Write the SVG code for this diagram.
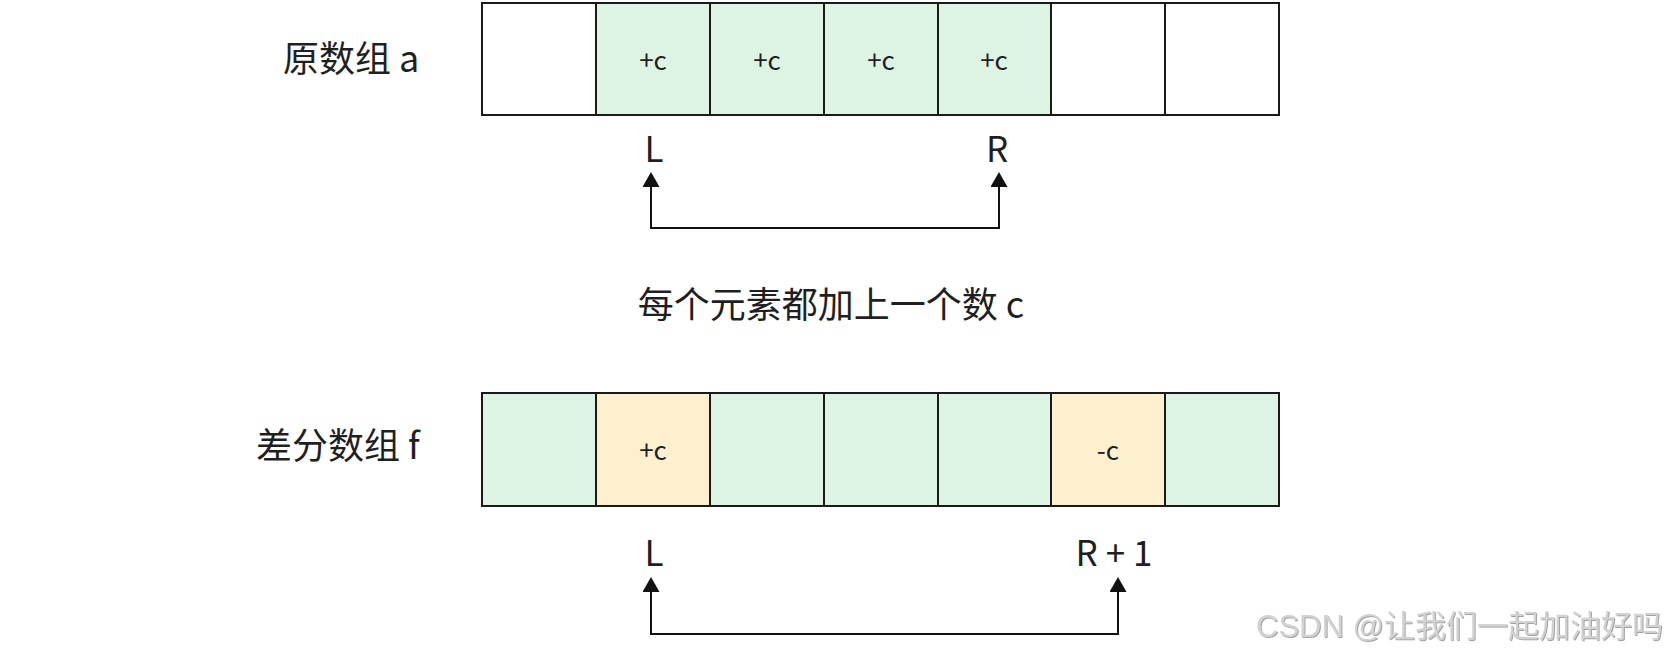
<svg xmlns="http://www.w3.org/2000/svg" width="1676" height="658" viewBox="0 0 1676 658">
<defs>
<style>
.cell{stroke:#1a1a1a;stroke-width:2}
.w{fill:#ffffff}
.g{fill:#ddf3e4}
.y{fill:#fdf0cf}
.t{font-family:"Noto Sans CJK SC","Noto Sans",sans-serif;fill:#1f1f1f}
.lbl{font-size:36px}
.cv{font-size:26px;text-anchor:middle}
.idx{font-size:35px;text-anchor:middle}
.conn{fill:none;stroke:#111;stroke-width:2}
.wm{font-family:"Liberation Sans","Noto Sans CJK SC",sans-serif;font-size:31px;fill:#d2d2d2;filter:url(#sh)}
</style>
<marker id="ah" viewBox="0 0 15 17" refX="0" refY="8.5" markerWidth="15" markerHeight="17" markerUnits="userSpaceOnUse" orient="auto-start-reverse">
<path d="M0,0 L15,8.5 L0,17 Z" fill="#111"/>
</marker>
<filter id="sh" x="-5%" y="-20%" width="110%" height="140%">
<feDropShadow dx="1" dy="1" stdDeviation="0.6" flood-color="#8a8a8a" flood-opacity="0.8"/>
</filter>
</defs>

<g id="label-a"><text class="t lbl" x="283" y="72">原数组 a</text></g>
<g id="array-a">
<rect class="cell w" x="482" y="3" width="114" height="112"/>
<rect class="cell g" x="596" y="3" width="114" height="112"/>
<rect class="cell g" x="710" y="3" width="114" height="112"/>
<rect class="cell g" x="824" y="3" width="114" height="112"/>
<rect class="cell g" x="938" y="3" width="113" height="112"/>
<rect class="cell w" x="1051" y="3" width="114" height="112"/>
<rect class="cell w" x="1165" y="3" width="114" height="112"/>
<text class="t cv" x="653" y="70">+c</text>
<text class="t cv" x="767" y="70">+c</text>
<text class="t cv" x="881" y="70">+c</text>
<text class="t cv" x="994" y="70">+c</text>
</g>
<g id="idx-a">
<text class="t idx" x="654" y="162">L</text>
<text class="t idx" x="997" y="162">R</text>
</g>

<g id="mid-text"><text class="t lbl" x="831" y="318" text-anchor="middle">每个元素都加上一个数 c</text></g>

<g id="label-f"><text class="t lbl" x="256" y="459">差分数组 f</text></g>
<g id="array-f">
<rect class="cell g" x="482" y="393" width="114" height="113"/>
<rect class="cell y" x="596" y="393" width="114" height="113"/>
<rect class="cell g" x="710" y="393" width="114" height="113"/>
<rect class="cell g" x="824" y="393" width="114" height="113"/>
<rect class="cell g" x="938" y="393" width="113" height="113"/>
<rect class="cell y" x="1051" y="393" width="114" height="113"/>
<rect class="cell g" x="1165" y="393" width="114" height="113"/>
<text class="t cv" x="653" y="460">+c</text>
<text class="t cv" x="1108" y="460">-c</text>
</g>
<g id="idx-f">
<text class="t idx" x="654" y="566">L</text>
<text class="t idx" x="1114" y="566">R + 1</text>
</g>

<g id="connectors">
<path class="conn" d="M651,187 V228 H999 V187" marker-start="url(#ah)" marker-end="url(#ah)"/>
<path class="conn" d="M651,592 V634 H1118 V592" marker-start="url(#ah)" marker-end="url(#ah)"/>
</g>

<g id="watermark"><text class="wm" x="1256" y="637">CSDN @让我们一起加油好吗</text></g>
</svg>
